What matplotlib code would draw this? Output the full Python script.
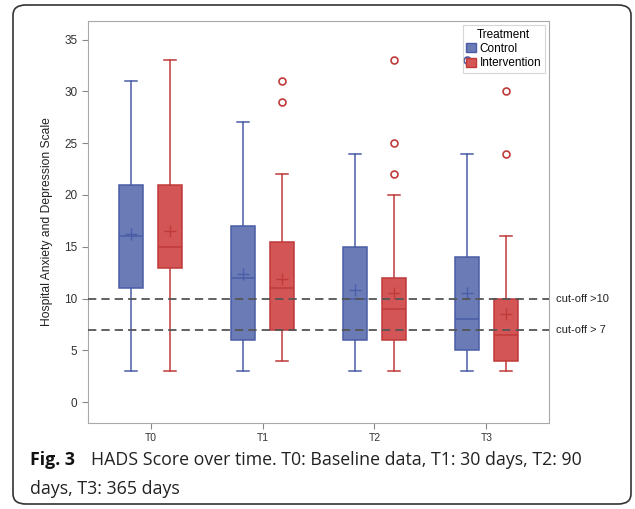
import matplotlib.pyplot as plt
from matplotlib.patches import FancyBboxPatch
import numpy as np

timepoints = ['T0', 'T1', 'T2', 'T3']
groups = ['Control', 'Intervention']

ctrl_low = [3, 3, 3, 3]
ctrl_q1 = [11, 6, 6, 5]
ctrl_med = [16, 12, 10, 8]
ctrl_q3 = [21, 17, 15, 14]
ctrl_high = [31, 27, 24, 24]
ctrl_mean = [16.2, 12.4, 10.8, 10.5]
ctrl_out = [[], [], [], [33]]

int_low = [3, 4, 3, 3]
int_q1 = [13, 7, 6, 4]
int_med = [15, 11, 9, 6.5]
int_q3 = [21, 15.5, 12, 10]
int_high = [33, 22, 20, 16]
int_mean = [16.5, 11.9, 10.5, 8.5]
int_out = [[], [29, 31], [22, 25, 33], [24, 30]]

cutoffs = [10, 7]
cutoff_labels = ['cut-off >10', 'cut-off > 7']

plt.rcParams['font.family'] = ['Liberation Sans', 'DejaVu Sans']

fig = plt.figure(figsize=(6.35, 5.09), dpi=100)
ax = fig.add_axes([0.1386, 0.169, 0.726, 0.79])


def make_stats(low, q1, med, q3, high, mean, out):
    stats = []
    for i in range(len(low)):
        stats.append(dict(whislo=low[i], q1=q1[i], med=med[i], q3=q3[i],
                          whishi=high[i], mean=mean[i], fliers=np.array(out[i])))
    return stats


x = np.arange(len(timepoints))
off = 0.174
w = 0.214

styles = [
    ('#6A7BB6', '#4A5DA6', make_stats(ctrl_low, ctrl_q1, ctrl_med, ctrl_q3, ctrl_high, ctrl_mean, ctrl_out)),
    ('#D45555', '#C03A3A', make_stats(int_low, int_q1, int_med, int_q3, int_high, int_mean, int_out)),
]

for k, (fill, edge, stats) in enumerate(styles):
    pos = x + (k * 2 - 1) * off
    ax.bxp(stats, positions=pos, widths=w, patch_artist=True, showmeans=True,
           capwidths=w / 2,
           boxprops=dict(facecolor=fill, edgecolor=edge, linewidth=1.1),
           medianprops=dict(color=edge, linewidth=1.1),
           whiskerprops=dict(color=edge, linewidth=1.1),
           capprops=dict(color=edge, linewidth=1.1),
           meanprops=dict(marker='+', markeredgecolor=edge, markersize=8, markeredgewidth=1),
           flierprops=dict(marker='o', markerfacecolor='none', markeredgecolor=edge,
                           markersize=5, markeredgewidth=1.2),
           zorder=2)

for c, lab in zip(cutoffs, cutoff_labels):
    ax.axhline(c, color='#555555', linestyle=(0, (4.6, 2.8)), linewidth=1.3, zorder=3)
    ax.annotate(lab, xy=(1, c), xycoords=('axes fraction', 'data'), xytext=(5, 0),
                textcoords='offset points', va='center', ha='left', fontsize=8,
                color='#222222', annotation_clip=False)

ax.set_xlim(-0.56, 3.56)
ax.set_ylim(-2, 36.8)
ax.set_xticks(x)
ax.set_xticklabels(timepoints)
ax.set_yticks(range(0, 36, 5))
ax.tick_params(colors='#888888', labelcolor='#333333', labelsize=8.5, length=4, width=0.8)
ax.tick_params(axis='x', labelsize=7.5)
for s in ax.spines.values():
    s.set_color('#A8A8A8')
ax.set_ylabel('Hospital Anxiety and Depression Scale', fontsize=8.75, color='#222222', labelpad=8)

handles = [plt.Rectangle((0, 0), 1, 1, facecolor=styles[i][0], edgecolor=styles[i][1]) for i in range(2)]
leg = ax.legend(handles, groups, title='Treatment', loc='upper right', fontsize=8.5,
                title_fontsize=8.5, frameon=True, fancybox=False, borderpad=0.3,
                handlelength=0.8, handleheight=0.8, handletextpad=0.35,
                labelspacing=0.2, borderaxespad=0.35)
leg.get_frame().set_edgecolor('#CCCCCC')
leg.get_frame().set_facecolor('none')
leg.get_frame().set_linewidth(0.8)
leg.set_zorder(5)

border = FancyBboxPatch((13 / 635, 5 / 509), 618 / 635, 499 / 509,
                        boxstyle='round,pad=0,rounding_size=0.02',
                        transform=fig.transFigure, facecolor='none',
                        edgecolor='#333333', linewidth=1.2)
fig.patches.append(border)

cap_font = ['Open Sans', 'DejaVu Sans']
fig.text(30 / 635, 1 - 460 / 509, 'Fig. 3', fontsize=12.8, fontweight='bold',
         va='center', ha='left', family=cap_font, color='#111111')
fig.text(91 / 635, 1 - 460 / 509, 'HADS Score over time. T0: Baseline data, T1: 30 days, T2: 90',
         fontsize=12.8, va='center', ha='left', family=cap_font, color='#222222')
fig.text(30 / 635, 1 - 489 / 509, 'days, T3: 365 days',
         fontsize=12.8, va='center', ha='left', family=cap_font, color='#222222')

fig.savefig('out.png', dpi=100)
